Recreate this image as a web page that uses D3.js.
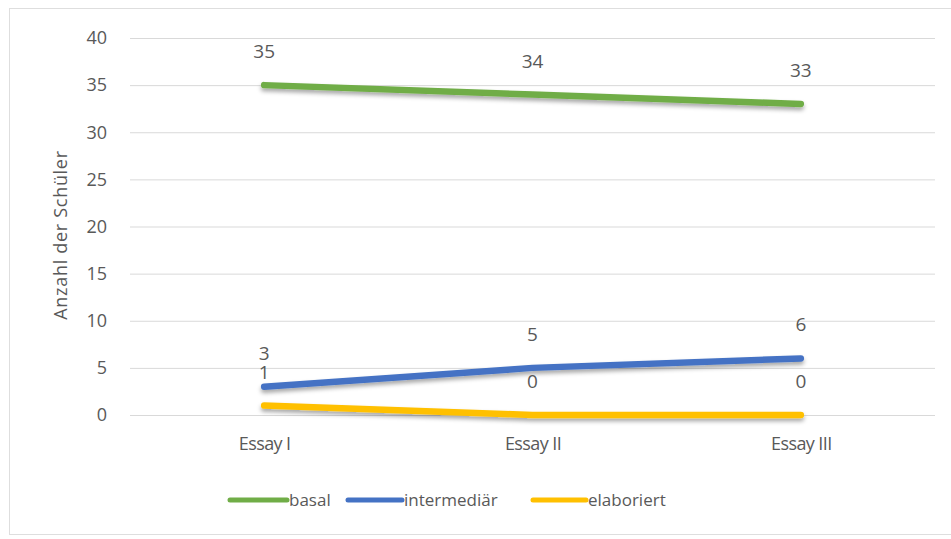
<!DOCTYPE html>
<html>
<head>
<meta charset="utf-8">
<script src="https://cdn.jsdelivr.net/npm/d3@7"></script>
<style>
  html, body { margin: 0; padding: 0; background: #fff; }
  svg { display: block; }
  text { font-family: "Open Sans", "DejaVu Sans", sans-serif; fill: #595959; }
</style>
</head>
<body>
<svg id="chart" width="951" height="539"></svg>
<script>
// Essays and student counts per level
const categories = ["Essay I", "Essay II", "Essay III"];
const basal = [35, 34, 33];
const intermediaer = [3, 5, 6];
const elaboriert = [1, 0, 0];
const yTicks = [0, 5, 10, 15, 20, 25, 30, 35, 40];

const series = [
  { name: "basal", values: basal, color: "#70AD47" },
  { name: "intermediär", values: intermediaer, color: "#4472C4" },
  { name: "elaboriert", values: elaboriert, color: "#FFC000" }
];

const svg = d3.select("#chart");
const W = 951;

// chart frame (open on the right)
svg.append("rect")
  .attr("x", 9.5).attr("y", 8.5)
  .attr("width", W).attr("height", 526)
  .attr("fill", "#fff").attr("stroke", "#dedede").attr("stroke-width", 1);

const plot = { left: 130, right: 935, top: 38, bottom: 415 };

const x = d3.scalePoint().domain(categories)
  .range([plot.left, plot.right]).padding(0.5);
const y = d3.scaleLinear().domain([0, 40]).range([plot.bottom, plot.top]);

// soft drop shadow under the lines
const defs = svg.append("defs");
const f = defs.append("filter").attr("id", "shadow")
  .attr("x", "-10%").attr("y", "-50%").attr("width", "120%").attr("height", "300%");
f.append("feDropShadow").attr("dx", 0).attr("dy", 3).attr("stdDeviation", 2.2)
  .attr("flood-color", "#000").attr("flood-opacity", 0.35);

// gridlines and y tick labels
const yAxis = d3.axisLeft(y).tickValues(yTicks)
  .tickSize(-(plot.right - plot.left)).tickPadding(23);
const gy = svg.append("g").attr("transform", `translate(${plot.left},0)`).call(yAxis);
gy.select(".domain").remove();
gy.selectAll(".tick line").attr("stroke", "#d9d9d9").attr("stroke-width", 1);
gy.selectAll(".tick text").attr("font-size", 18).attr("font-family", null)
  .style("fill", "#595959");

// x labels
const xAxis = d3.axisBottom(x).tickSize(0).tickPadding(22);
const gx = svg.append("g").attr("transform", `translate(0,${plot.bottom})`).call(xAxis);
gx.select(".domain").remove();
gx.selectAll(".tick text").attr("font-size", 18).attr("font-family", null)
  .attr("letter-spacing", -0.6).style("fill", "#595959");

// y axis title
svg.append("text")
  .attr("transform", "translate(67,235) rotate(-90)")
  .attr("text-anchor", "middle").attr("font-size", 18)
  .attr("letter-spacing", 0.7)
  .text("Anzahl der Schüler");

// lines
const line = d3.line()
  .x((d, i) => x(categories[i]))
  .y(d => y(d));

series.forEach(s => {
  svg.append("path")
    .datum(s.values)
    .attr("d", line)
    .attr("fill", "none")
    .attr("stroke", s.color)
    .attr("stroke-width", 6.5)
    .attr("stroke-linecap", "round")
    .attr("stroke-linejoin", "round")
    .attr("filter", "url(#shadow)");
});

// data labels
series.forEach(s => {
  svg.append("g").selectAll("text")
    .data(s.values)
    .join("text")
    .attr("x", (d, i) => x(categories[i]))
    .attr("y", d => y(d) - 27)
    .attr("text-anchor", "middle")
    .attr("font-size", 19)
    .text(d => d);
});

// legend
const legendItems = [
  { x0: 230, x1: 287 },
  { x0: 348, x1: 402 },
  { x0: 533, x1: 586 }
];
const legendY = 500;
series.forEach((s, i) => {
  const li = legendItems[i];
  svg.append("line")
    .attr("x1", li.x0).attr("x2", li.x1)
    .attr("y1", legendY).attr("y2", legendY)
    .attr("stroke", s.color).attr("stroke-width", 5)
    .attr("stroke-linecap", "round");
  svg.append("text")
    .attr("x", li.x1 + 2).attr("y", legendY + 6)
    .attr("font-size", 17)
    .text(s.name);
});
</script>
</body>
</html>
